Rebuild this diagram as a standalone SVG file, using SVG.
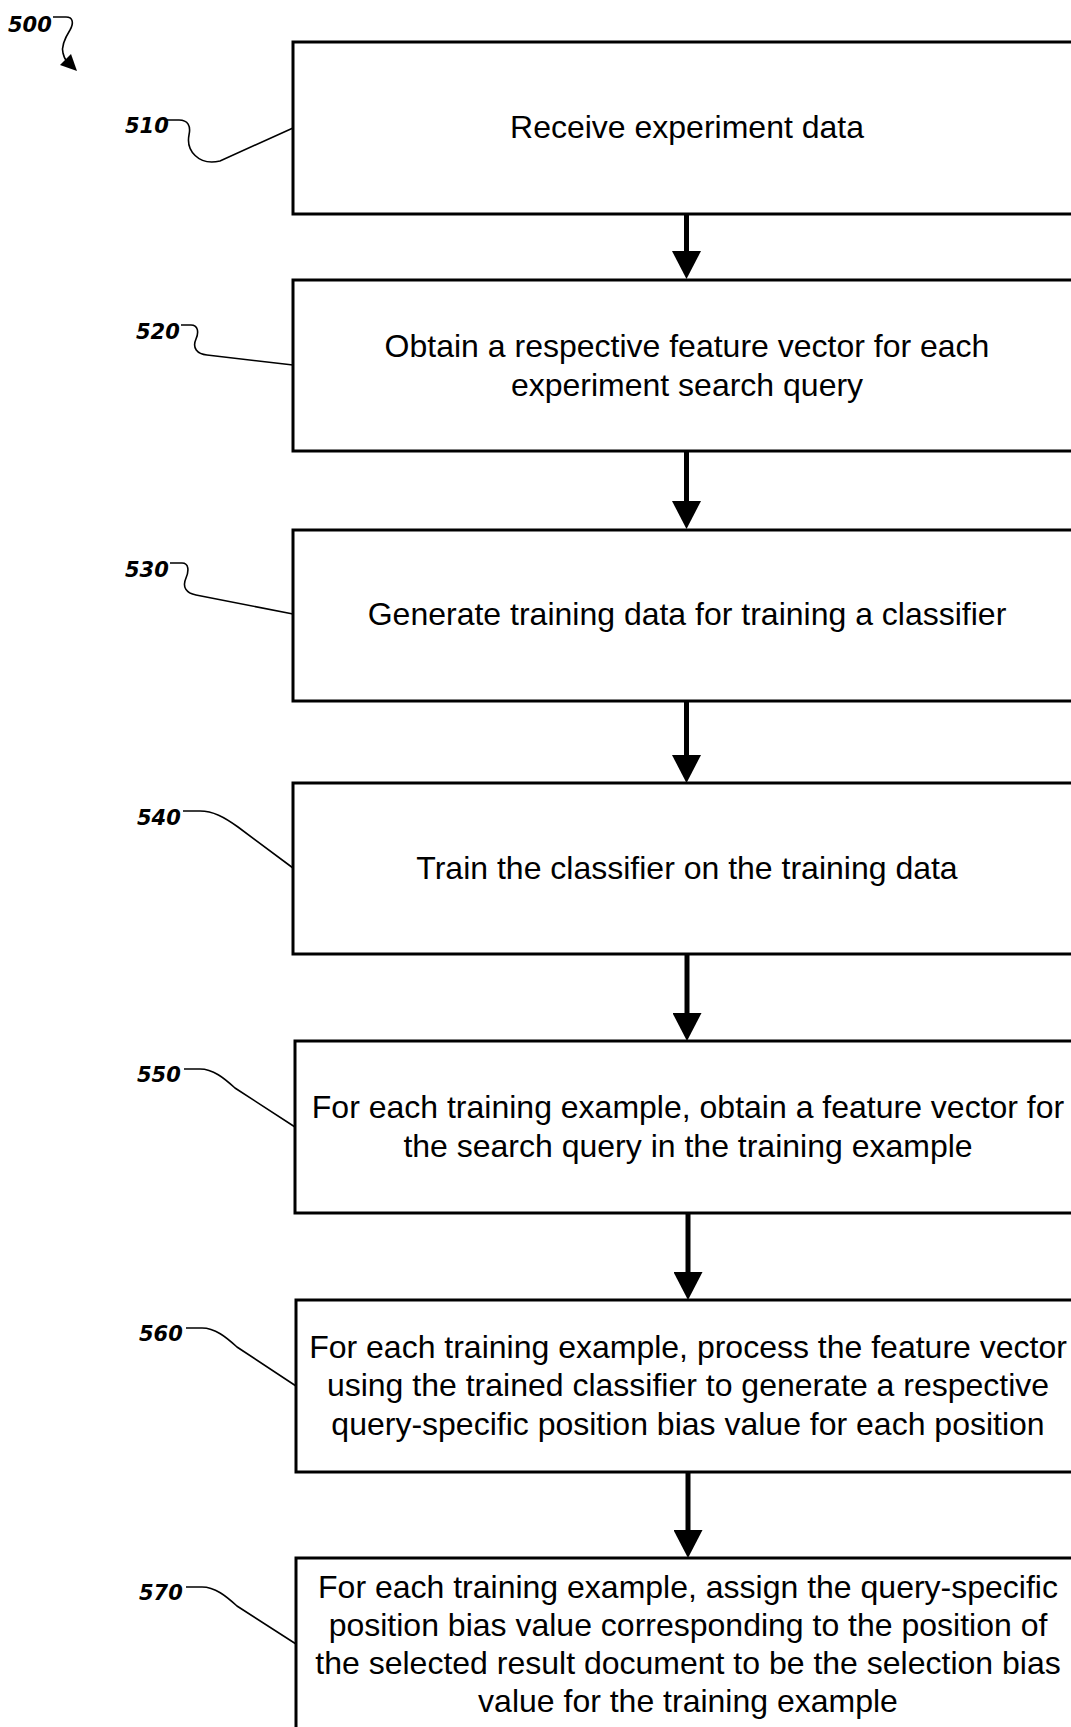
<svg xmlns="http://www.w3.org/2000/svg" width="1071" height="1727" viewBox="0 0 1071 1727">
  <style>
    .box { fill: #ffffff; stroke: #000000; stroke-width: 3; }
    .step { font-family: "Liberation Sans", Arial, sans-serif; font-size: 32px; fill: #000000; text-anchor: middle; }
    .ref { font-family: "DejaVu Sans", Verdana, sans-serif; font-size: 21px; font-style: oblique; font-weight: bold; fill: #000000; }
    .leader { fill: none; stroke: #000000; stroke-width: 1.6; }
    .flow { fill: none; stroke: #000000; stroke-width: 5; marker-end: url(#head); }
  </style>
  <defs>
    <marker id="head" viewBox="0 0 28 29" refX="8" refY="14.5" markerWidth="28" markerHeight="29" markerUnits="userSpaceOnUse" orient="auto">
      <path d="M0,0 L28,14.5 L0,29 Z" fill="#000000"/>
    </marker>
  </defs>

  <rect width="1071" height="1727" fill="#ffffff"/>

  <!-- figure reference -->
  <g id="fig500">
    <text class="ref" x="8" y="32">500</text>
    <path class="leader" d="M53,17 L66,17 C73,17 74,23 70,30 C65,38 61,46 63,53 C64,57 65,59 66,60"/>
    <polygon points="77,71 60,65 71,54" fill="#000000"/>
  </g>

  <!-- process steps -->
  <g id="step510">
    <rect class="box" x="293" y="42" width="800" height="172"/>
    <text class="step" x="687" y="138">Receive experiment data</text>
    <text class="ref" x="125" y="133">510</text>
    <path class="leader" d="M167,120 L179,120 C188,120 191,126 189,135 C186,150 198,166 220,161 L293,128"/>
  </g>

  <g id="step520">
    <rect class="box" x="293" y="280" width="800" height="171"/>
    <text class="step" x="687" y="357">Obtain a respective feature vector for each</text>
    <text class="step" x="687" y="396">experiment search query</text>
    <text class="ref" x="136" y="339">520</text>
    <path class="leader" d="M181,325 L191,325 C198,325 199,332 196,339 C192,348 197,354 207,355 L293,365"/>
  </g>

  <g id="step530">
    <rect class="box" x="293" y="530" width="800" height="171"/>
    <text class="step" x="687" y="625">Generate training data for training a classifier</text>
    <text class="ref" x="125" y="577">530</text>
    <path class="leader" d="M170,563 L182,563 C189,563 189,571 186,578 C182,587 186,593 196,595 L293,614"/>
  </g>

  <g id="step540">
    <rect class="box" x="293" y="783" width="800" height="171"/>
    <text class="step" x="687" y="879">Train the classifier on the training data</text>
    <text class="ref" x="137" y="825">540</text>
    <path class="leader" d="M183,811 L200,811 C213,811 224,817 238,827 L293,868"/>
  </g>

  <g id="step550">
    <rect class="box" x="295" y="1041" width="800" height="172"/>
    <text class="step" x="688" y="1118">For each training example, obtain a feature vector for</text>
    <text class="step" x="688" y="1157">the search query in the training example</text>
    <text class="ref" x="137" y="1082">550</text>
    <path class="leader" d="M184,1069 L200,1069 C213,1069 224,1078 235,1088 L295,1127"/>
  </g>

  <g id="step560">
    <rect class="box" x="296" y="1300" width="800" height="172"/>
    <text class="step" x="688" y="1358">For each training example, process the feature vector</text>
    <text class="step" x="688" y="1396">using the trained classifier to generate a respective</text>
    <text class="step" x="688" y="1435">query-specific position bias value for each position</text>
    <text class="ref" x="139" y="1341">560</text>
    <path class="leader" d="M186,1328 L202,1328 C215,1328 226,1337 237,1347 L296,1386"/>
  </g>

  <g id="step570">
    <rect class="box" x="296" y="1558" width="800" height="220"/>
    <text class="step" x="688" y="1598">For each training example, assign the query-specific</text>
    <text class="step" x="688" y="1636">position bias value corresponding to the position of</text>
    <text class="step" x="688" y="1674">the selected result document to be the selection bias</text>
    <text class="step" x="688" y="1712">value for the training example</text>
    <text class="ref" x="139" y="1600">570</text>
    <path class="leader" d="M186,1587 L202,1587 C215,1587 226,1596 237,1606 L296,1644"/>
  </g>

  <!-- flow arrows between steps -->
  <g id="connectors">
    <line class="flow" x1="686.5" y1="214" x2="686.5" y2="259"/>
    <line class="flow" x1="686.5" y1="451" x2="686.5" y2="509"/>
    <line class="flow" x1="686.5" y1="701" x2="686.5" y2="763"/>
    <line class="flow" x1="687" y1="954" x2="687" y2="1021"/>
    <line class="flow" x1="688" y1="1213" x2="688" y2="1280"/>
    <line class="flow" x1="688" y1="1472" x2="688" y2="1538"/>
  </g>
</svg>
